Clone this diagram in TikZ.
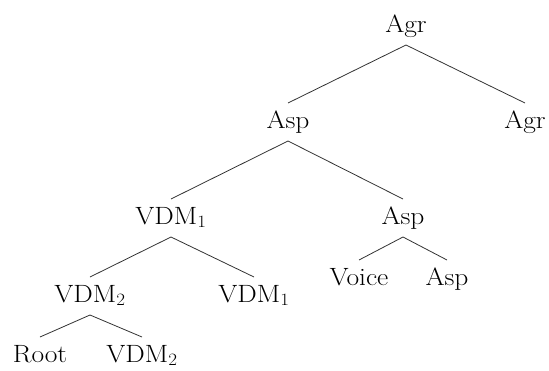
\documentclass[tikz,border=0pt]{standalone}
\usepackage{graphicx}
\newcommand\widelabel[1]{\scalebox{1.1}[1]{#1}}
\begin{document}
\begin{tikzpicture}[x=1pt,y=-1pt,
  lbl/.style={anchor=base,inner sep=0pt,outer sep=0pt,
    font=\fontsize{25}{30}\selectfont,text height=25pt,text depth=13pt},
  edge/.style={draw=black!80,line width=0.8pt}]
\useasboundingbox (0,0) rectangle (549,370);
% nodes of the tree, placed by base line
\node[lbl] (agr0)  at (406,32)  {\widelabel{Agr}};
\node[lbl] (asp1)  at (288,128) {\widelabel{Asp}};
\node[lbl] (agr1)  at (525,128) {\widelabel{Agr}};
\node[lbl] (vdma)  at (171,224) {\widelabel{VDM$_1$}};
\node[lbl] (asp2)  at (403,224) {\widelabel{Asp}};
\node[lbl] (vdmb)  at (90,302)  {\widelabel{VDM$_2$}};
\node[lbl] (vdmc)  at (254,302) {\widelabel{VDM$_1$}};
\node[lbl] (voice) at (359,285) {\widelabel{Voice}};
\node[lbl] (asp3)  at (447,285) {\widelabel{Asp}};
\node[lbl] (root)  at (40,362)  {\widelabel{Root}};
\node[lbl] (vdmd)  at (142,362) {\widelabel{VDM$_2$}};
% branches
\draw[edge] (asp1.north) -- (agr0.south) -- (agr1.north);
\draw[edge] (vdma.north) -- (asp1.south) -- (asp2.north);
\draw[edge] (vdmb.north) -- (vdma.south) -- (vdmc.north);
\draw[edge] (voice.north) -- (asp2.south) -- (asp3.north);
\draw[edge] (root.north) -- (vdmb.south) -- (vdmd.north);
\end{tikzpicture}
\end{document}
